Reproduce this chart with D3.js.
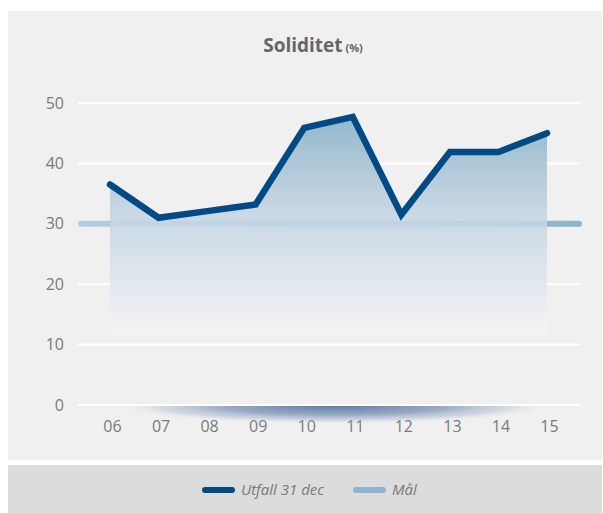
<!DOCTYPE html>
<html>
<head>
<meta charset="utf-8">
<script src="https://cdn.jsdelivr.net/npm/d3@7"></script>
<style>
  body { margin: 0; background: #fff; }
  text { font-family: "Open Sans", "DejaVu Sans", sans-serif; }
</style>
</head>
<body>
<div id="chart"></div>
<script>
// data
var years   = ["06", "07", "08", "09", "10", "11", "12", "13", "14", "15"];
var utfall  = [36.5, 31.0, 32.1, 33.2, 45.9, 47.7, 31.5, 41.9, 41.9, 45.0];
var maal    = [30];
var yTicks  = [0, 10, 20, 30, 40, 50];
var legendLabels = ["Utfall 31 dec", "Mål"];

var width  = 603,
    height = 513,
    lineColor = "#024a86",
    goalColor = "#8fb4cf",
    textColor = "#7a7a7a",
    areaBase  = 11.8;

var svg = d3.select("#chart").append("svg")
    .attr("width", width)
    .attr("height", height);

var defs = svg.append("defs");

// panels
svg.append("rect")
    .attr("x", 8).attr("y", 11)
    .attr("width", 594).attr("height", 449)
    .style("fill", "#f0f0f0");
svg.append("rect")
    .attr("x", 8).attr("y", 465)
    .attr("width", 594).attr("height", 48)
    .style("fill", "#dcdcdd");

// title
var title = svg.append("text")
    .attr("x", 313).attr("y", 52)
    .attr("text-anchor", "middle")
    .style("fill", "#666")
    .style("font-weight", "bold");
title.append("tspan").text("Soliditet").style("font-size", "19px");
title.append("tspan").text(" (%)").style("font-size", "11px");

// scales
var x = d3.scalePoint().domain(years).range([110, 547]);
var y = d3.scaleLinear().domain([0, 50]).range([405, 103]);

// grid lines
svg.selectAll(".grid").data(yTicks).enter().append("line")
    .attr("class", "grid")
    .attr("x1", 78).attr("x2", 580)
    .attr("y1", function(d){ return y(d); })
    .attr("y2", function(d){ return y(d); })
    .style("stroke", "#fff")
    .style("stroke-width", 2);

// y axis labels
var yAxis = d3.axisLeft(y).tickValues(yTicks).tickSize(0).tickPadding(0);
var gy = svg.append("g").attr("transform", "translate(64,0)").call(yAxis);
gy.select(".domain").remove();
gy.selectAll("text")
    .style("font-size", "16px")
    .style("fill", textColor)
    .style("font-family", "'Open Sans', sans-serif");

// x axis labels
var xAxis = d3.axisBottom(x).tickSize(0).tickPadding(0);
var gx = svg.append("g").attr("transform", "translate(2,421)").call(xAxis);
gx.select(".domain").remove();
gx.selectAll("text")
    .style("font-size", "16px")
    .style("fill", textColor)
    .style("font-family", "'Open Sans', sans-serif");

// shadow below base line
var shadow = defs.append("radialGradient").attr("id", "shadow")
    .attr("cx", "50%").attr("cy", "50%").attr("r", "50%");
shadow.append("stop").attr("offset", "0%").style("stop-color", "#46679a").style("stop-opacity", 0.85);
shadow.append("stop").attr("offset", "50%").style("stop-color", "#5d7aa8").style("stop-opacity", 0.6);
shadow.append("stop").attr("offset", "80%").style("stop-color", "#8ea3c6").style("stop-opacity", 0.3);
shadow.append("stop").attr("offset", "100%").style("stop-color", "#f0f0f0").style("stop-opacity", 0);
defs.append("clipPath").attr("id", "belowBase")
    .append("rect").attr("x", 0).attr("y", y(0) + 1).attr("width", width).attr("height", 30);
svg.append("ellipse")
    .attr("cx", (x("06") + x("15")) / 2 + 5)
    .attr("cy", y(0) + 1)
    .attr("rx", 218).attr("ry", 18)
    .attr("clip-path", "url(#belowBase)")
    .style("fill", "url(#shadow)");

// goal line
var goalGrad = defs.append("linearGradient").attr("id", "goalGrad")
    .attr("gradientUnits", "userSpaceOnUse")
    .attr("x1", 80).attr("x2", 580).attr("y1", 0).attr("y2", 0);
goalGrad.append("stop").attr("offset", "0%").style("stop-color", "#b4cde0");
goalGrad.append("stop").attr("offset", "100%").style("stop-color", "#8cb5cc");
svg.selectAll(".goal").data(maal).enter().append("line")
    .attr("class", "goal")
    .attr("x1", 81).attr("x2", 579)
    .attr("y1", function(d){ return y(d); })
    .attr("y2", function(d){ return y(d); })
    .style("stroke", "url(#goalGrad)")
    .style("stroke-width", 6)
    .style("stroke-linecap", "round");

// area fill
var areaGrad = defs.append("linearGradient").attr("id", "areaGrad")
    .attr("gradientUnits", "userSpaceOnUse")
    .attr("x1", 0).attr("x2", 0)
    .attr("y1", y(48)).attr("y2", y(areaBase));
areaGrad.append("stop").attr("offset", "0%").style("stop-color", "#8cb3ca").style("stop-opacity", 0.95);
areaGrad.append("stop").attr("offset", "45%").style("stop-color", "#c2d4e1").style("stop-opacity", 0.85);
areaGrad.append("stop").attr("offset", "80%").style("stop-color", "#e4e8ef").style("stop-opacity", 0.9);
areaGrad.append("stop").attr("offset", "100%").style("stop-color", "#f3f4f4").style("stop-opacity", 1);

var area = d3.area()
    .x(function(d, i){ return x(years[i]); })
    .y0(y(areaBase))
    .y1(function(d){ return y(d); });
svg.append("path")
    .datum(utfall)
    .attr("d", area)
    .style("fill", "url(#areaGrad)");

// main line
var line = d3.line()
    .x(function(d, i){ return x(years[i]); })
    .y(function(d){ return y(d); });
svg.append("path")
    .datum(utfall)
    .attr("d", line)
    .style("fill", "none")
    .style("stroke", lineColor)
    .style("stroke-width", 6.5)
    .style("stroke-linejoin", "miter")
    .style("stroke-linecap", "round");

// legend
var legend = svg.append("g").attr("transform", "translate(0,490)");
var legendItems = [
    { label: legendLabels[0], color: lineColor, x: 205 },
    { label: legendLabels[1], color: goalColor, x: 356 }
];
legendItems.forEach(function(item){
    legend.append("line")
        .attr("x1", item.x).attr("x2", item.x + 27)
        .attr("y1", 0).attr("y2", 0)
        .style("stroke", item.color)
        .style("stroke-width", 6)
        .style("stroke-linecap", "round");
    legend.append("text")
        .attr("x", item.x + 36).attr("y", 5)
        .text(item.label)
        .style("font-size", "15px")
        .style("font-style", "italic")
        .style("fill", textColor);
});
</script>
</body>
</html>
